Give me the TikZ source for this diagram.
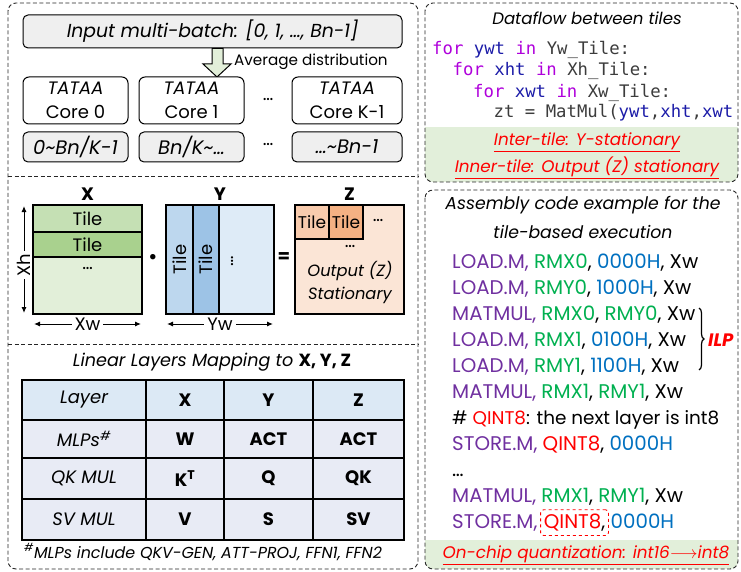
\documentclass[tikz,border=0pt]{standalone}
\usepackage{fontspec}
\setmainfont{Poppins}
\setmonofont{DejaVu Sans Mono}
\usetikzlibrary{arrows.meta, decorations.pathreplacing, fit}

\definecolor{boxgray}{HTML}{EFEFEF}
\definecolor{bandgreen}{HTML}{E2EFDA}
\definecolor{xlight}{HTML}{E2EFD9}
\definecolor{xtileA}{HTML}{C5E0B4}
\definecolor{xtileB}{HTML}{A9D18E}
\definecolor{ylight}{HTML}{DEEBF7}
\definecolor{ytileA}{HTML}{BDD7EE}
\definecolor{ytileB}{HTML}{9DC3E6}
\definecolor{zlight}{HTML}{FBE5D6}
\definecolor{ztileA}{HTML}{F8CBAD}
\definecolor{ztileB}{HTML}{F4B183}
\definecolor{headblue}{HTML}{DCE9F5}
\definecolor{rowgray}{HTML}{E8EBF5}
\definecolor{kwpurple}{HTML}{AF00DB}
\definecolor{varblue}{HTML}{1C1CA8}
\definecolor{codegray}{HTML}{3C3C3C}
\definecolor{opviolet}{HTML}{7030A0}
\definecolor{reggreen}{HTML}{00B050}
\definecolor{addrblue}{HTML}{0070C0}
\definecolor{hotred}{HTML}{FF0000}

\newcommand\fsz[1]{\fontsize{#1}{24}\selectfont}
\newcommand\szmain{\fsz{18}}
\newcommand\szcode{\fontsize{17.3}{21}\selectfont}
\newcommand\szasm{\fsz{19.8}}
\newcommand\kw[1]{\textcolor{kwpurple}{#1}}
\newcommand\vr[1]{\textcolor{varblue}{#1}}
\newcommand\op[1]{\textcolor{opviolet}{#1}}
\newcommand\rg[1]{\textcolor{reggreen}{#1}}
\newcommand\ad[1]{\textcolor{addrblue}{#1}}
\newcommand\hot[1]{\textcolor{hotred}{#1}}

\tikzset{
  panel/.style={draw=black!85, line width=0.9pt, dash pattern=on 4pt off 2.5pt, rounded corners=8pt},
  divider/.style={draw=black!85, line width=0.9pt, dash pattern=on 4pt off 2.5pt},
  graybox/.style={draw, line width=1pt, fill=boxgray, rounded corners=5pt, inner sep=0pt, font=\fsz{19.5}\itshape},
  corebox/.style={draw, line width=1pt, fill=white, rounded corners=6pt, inner sep=0pt, align=center, font=\szmain},
  mat/.style={draw, line width=2pt, inner sep=0pt, font=\szmain},
  dimarrow/.style={{Latex[length=6pt,width=5pt]}-{Latex[length=6pt,width=5pt]}, line width=1pt},
  lbl/.style={inner sep=0pt, font=\szmain},
  cell/.style={draw, line width=1.8pt, inner sep=0pt, font=\szmain},
  codeline/.style={anchor=base west, inner sep=0pt, font=\szcode\ttfamily\color{codegray}},
  asmline/.style={anchor=base west, inner sep=0pt, font=\szasm},
  redtxt/.style={inner sep=0pt, font=\fsz{16.8}\itshape, text=hotred},
}

\begin{document}
\begin{tikzpicture}[x=1pt, y=-1pt]
\useasboundingbox (0,0) rectangle (741,572);

% ---------- right-hand panel backgrounds ----------
\begin{scope}
  \clip[rounded corners=8pt] (425,3) rectangle (738,182);
  \fill[bandgreen] (425,127) rectangle (738,182);
\end{scope}
\begin{scope}
  \clip[rounded corners=8pt] (425,190) rectangle (738,569);
  \fill[bandgreen] (425,540) rectangle (738,569);
\end{scope}

% ---------- panel outlines ----------
\draw[panel] (8,3) rectangle (418,569);
\draw[divider] (8,176) -- (418,176);
\draw[divider] (8,344) -- (418,344);
\draw[panel] (425,3) rectangle (738,182);
\draw[panel] (425,190) rectangle (738,569);

% ---------- multi-batch distribution ----------
\node[graybox, minimum width=379pt, minimum height=33pt, font=\fsz{18.8}\itshape] (inp) at (212.5,31.5) {Input multi-batch: [0, 1, …, Bn-1]};
\draw[line width=1pt, fill=xlight]
  (212,48.5) -- (223,48.5) -- (223,64) -- (231,64) -- (217,77) -- (203,64) -- (212,64) -- cycle;
\node[lbl, anchor=west, font=\fsz{15.2}] (avg) at (234,62) {Average distribution};

\node[corebox, minimum width=105pt, minimum height=47pt] (c0) at (75.5,100.5) {\itshape TATAA\\Core 0};
\node[corebox, minimum width=105pt, minimum height=47pt] (c1) at (191.5,100.5) {\itshape TATAA\\Core 1};
\node[corebox, minimum width=110pt, minimum height=47pt] (ck) at (347,100.5) {\itshape TATAA\\Core K-1};
\node[lbl] (cdots) at (268,99) {…};

\node[graybox, minimum width=105pt, minimum height=30pt] (b0) at (75.5,147) {0\textasciitilde Bn/K-1};
\node[graybox, minimum width=105pt, minimum height=30pt] (b1) at (191.5,147) {Bn/K\textasciitilde …};
\node[graybox, minimum width=110pt, minimum height=30pt] (bk) at (347,147) {…\textasciitilde Bn-1};
\node[lbl] (bdots) at (268,144) {…};

% ---------- tiled matrix multiplication ----------
\node[lbl, font=\szmain\bfseries] (xlab) at (87.5,194) {X};
\node[lbl, font=\szmain\bfseries] (ylab) at (220,194) {Y};
\node[lbl, font=\szmain\bfseries] (zlab) at (349.5,194) {Z};

\node[mat, fill=xlight, minimum width=109pt, minimum height=57pt] (xr) at (87.5,285.5) {};
\node[mat, fill=xtileB, minimum width=109pt, minimum height=25pt] (xt2) at (87.5,244.5) {Tile};
\node[mat, fill=xtileA, minimum width=109pt, minimum height=27pt] (xt1) at (87.5,218.5) {Tile};
\node[lbl] (xdots) at (87.5,268) {…};

\node[mat, fill=ylight, minimum width=55pt, minimum height=109pt] (yr) at (246.5,259.5) {};
\node[mat, fill=ytileA, minimum width=27pt, minimum height=109pt] (yc1) at (179.5,259.5) {};
\node[mat, fill=ytileB, minimum width=26pt, minimum height=109pt] (yc2) at (206,259.5) {};
\node[lbl, rotate=90] at (yc1) {Tile};
\node[lbl, rotate=90] at (yc2) {Tile};
\node[lbl, rotate=90] (ydots) at (232,261) {…};

\node[mat, fill=zlight, minimum width=109pt, minimum height=109pt] (zr) at (349.5,259.5) {};
\node[mat, fill=ztileA, minimum width=34pt, minimum height=34pt, font=\fsz{17}] (zt1) at (312,222) {Tile};
\node[mat, fill=ztileB, minimum width=34pt, minimum height=34pt, font=\fsz{17}] (zt2) at (346,222) {Tile};
\node[lbl] (zdotsA) at (378,220) {…};
\node[lbl] (zdotsB) at (350,246) {…};
\node[lbl, font=\fsz{16.3}\itshape] (zout) at (350,271) {Output (Z)};
\node[lbl, font=\fsz{16.3}\itshape] (zsta) at (350,295) {Stationary};

\node[lbl, font=\fsz{22}] (dotop) at (153,259) {•};
\node[lbl, font=\szmain\bfseries] (eqop) at (284,258) {=};

\coordinate (xhT) at (24,206);
\coordinate (xhB) at (24,313);
\draw[dimarrow] (xhT) -- (xhB);
\node[lbl, rotate=90, fill=white, inner xsep=3pt] (xh) at (24,265) {Xh};
\coordinate (xwL) at (34,324);
\coordinate (xwR) at (141,324);
\draw[dimarrow] (xwL) -- (xwR);
\node[lbl, fill=white, inner xsep=3pt] (xw) at (87.5,324) {Xw};
\coordinate (ywL) at (167,324);
\coordinate (ywR) at (273,324);
\draw[dimarrow] (ywL) -- (ywR);
\node[lbl, fill=white, inner xsep=3pt] (yw) at (220,324) {Yw};

% ---------- mapping table ----------
\node[lbl, font=\fsz{17.6}] (ttl) at (212,362) {\itshape Linear Layers Mapping to \upshape\bfseries X, Y, Z};

\node[cell, fill=headblue, minimum width=124pt, minimum height=40pt] (h0) at (84,400) {\itshape Layer};
\node[cell, fill=headblue, minimum width=78pt, minimum height=40pt] (h1) at (185,400) {\bfseries X};
\node[cell, fill=headblue, minimum width=89pt, minimum height=40pt] (h2) at (268.5,400) {\bfseries Y};
\node[cell, fill=headblue, minimum width=91pt, minimum height=40pt] (h3) at (358.5,400) {\bfseries Z};

\node[cell, fill=rowgray, minimum width=124pt, minimum height=38pt] (a0) at (84,439) {\itshape MLPs\textsuperscript{\#}};
\node[cell, fill=rowgray, minimum width=78pt, minimum height=38pt] (a1) at (185,439) {\bfseries W};
\node[cell, fill=rowgray, minimum width=89pt, minimum height=38pt] (a2) at (268.5,439) {\bfseries ACT};
\node[cell, fill=rowgray, minimum width=91pt, minimum height=38pt] (a3) at (358.5,439) {\bfseries ACT};

\node[cell, fill=rowgray, minimum width=124pt, minimum height=41pt] (q0) at (84,478.5) {\itshape QK MUL};
\node[cell, fill=rowgray, minimum width=78pt, minimum height=41pt] (q1) at (185,478.5) {\bfseries K\textsuperscript{T}};
\node[cell, fill=rowgray, minimum width=89pt, minimum height=41pt] (q2) at (268.5,478.5) {\bfseries Q};
\node[cell, fill=rowgray, minimum width=91pt, minimum height=41pt] (q3) at (358.5,478.5) {\bfseries QK};

\node[cell, fill=rowgray, minimum width=124pt, minimum height=41pt] (s0) at (84,519.5) {\itshape SV MUL};
\node[cell, fill=rowgray, minimum width=78pt, minimum height=41pt] (s1) at (185,519.5) {\bfseries V};
\node[cell, fill=rowgray, minimum width=89pt, minimum height=41pt] (s2) at (268.5,519.5) {\bfseries S};
\node[cell, fill=rowgray, minimum width=91pt, minimum height=41pt] (s3) at (358.5,519.5) {\bfseries SV};

\node[lbl, anchor=west, font=\fsz{15.9}\itshape] (foot) at (24,552) {\textsuperscript{\#}MLPs include QKV-GEN, ATT-PROJ, FFN1, FFN2};

% ---------- dataflow loop nest ----------
\node[lbl, font=\fsz{16.6}\itshape] (dft) at (587,18) {Dataflow between tiles};
\begin{scope}
  \clip (425,3) rectangle (738,182);
  \node[codeline] (l1) at (432,55) {\kw{for} \vr{ywt} \kw{in} Yw\_Tile:};
  \node[codeline] (l2) at (452.5,76) {\kw{for} \vr{xht} \kw{in} Xh\_Tile:};
  \node[codeline] (l3) at (473,97.5) {\kw{for} \vr{xwt} \kw{in} Xw\_Tile:};
  \node[codeline] (l4) at (493.5,118) {zt = MatMul(\vr{ywt},\vr{xht},\vr{xwt}};
\end{scope}
\node[redtxt] (inter) at (587,142) {\underline{Inter-tile: Y-stationary}};
\node[redtxt] (inner) at (587,168) {\underline{Inner-tile: Output (Z) stationary}};

% ---------- assembly example ----------
\node[lbl, font=\fsz{17.3}\itshape] (at1) at (583,205) {Assembly code example for the};
\node[lbl, font=\fsz{17.3}\itshape] (at2) at (583,232) {tile-based execution};

\node[asmline] (i1) at (452,268.5) {\op{LOAD.M,} \rg{RMX0}, \ad{0000H}, Xw};
\node[asmline] (i2) at (452,294.5) {\op{LOAD.M,} \rg{RMY0}, \ad{1000H}, Xw};
\node[asmline] (i3) at (452,320.5) {\op{MATMUL,} \rg{RMX0}, \rg{RMY0}, Xw};
\node[asmline] (i4) at (452,346.5) {\op{LOAD.M,} \rg{RMX1}, \ad{0100H}, Xw};
\node[asmline] (i5) at (452,372.5) {\op{LOAD.M,} \rg{RMY1}, \ad{1100H}, Xw};
\node[asmline] (i6) at (452,398.5) {\op{MATMUL,} \rg{RMX1}, \rg{RMY1}, Xw};
\node[asmline, font=\fsz{18.4}] (i7) at (452,424.5) {\# \hot{QINT8}: the next layer is int8};
\node[asmline] (i8) at (452,450.5) {\op{STORE.M,} \hot{QINT8}, \ad{0000H}};
\node[asmline] (i9) at (452,476.5) {…};
\node[asmline] (i10) at (452,502.5) {\op{MATMUL,} \rg{RMX1}, \rg{RMY1}, Xw};
\node[asmline] (i11a) at (452,528.5) {\op{STORE.M,}};
\node[asmline] (i11b) at ([xshift=6pt]i11a.base east) {\hot{QINT8},};
\node[asmline] (i11c) at ([xshift=5pt]i11b.base east) {\ad{0000H}};
\node[draw=hotred, dashed, line width=0.9pt, rounded corners=3pt, fit=(i11b), inner xsep=3pt, inner ysep=4pt] (qbox) {};

\coordinate (brT) at (699,308);
\coordinate (brB) at (699,370);
\draw[line width=1.2pt, decorate, decoration={brace, amplitude=5pt}] (brT) -- (brB);
\node[redtxt, font=\fsz{18}\bfseries\itshape, anchor=west] (ilp) at (708,340) {ILP};

\node[redtxt] (onchip) at (586,555) {\underline{On-chip quantization: int16$\longrightarrow$int8}};
\end{tikzpicture}
\end{document}
